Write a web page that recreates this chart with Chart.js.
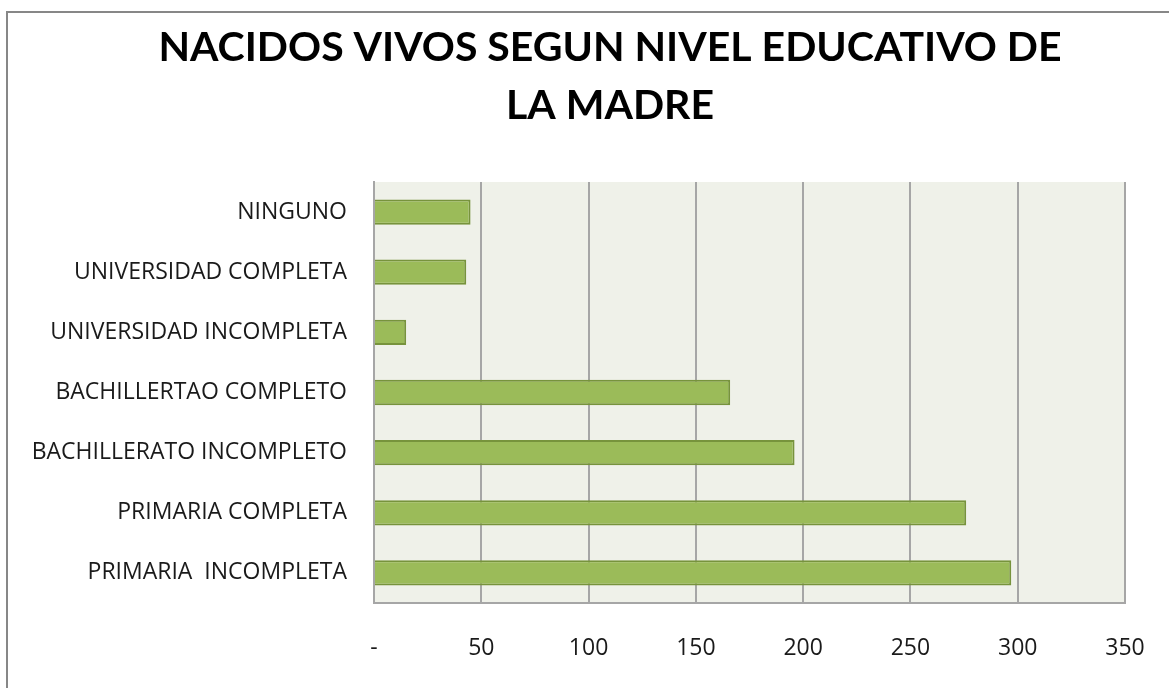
<!DOCTYPE html>
<html>
<head>
<meta charset="utf-8">
<script src="https://cdn.jsdelivr.net/npm/chart.js@4.4.1/dist/chart.umd.min.js"></script>
<style>
  html, body { margin: 0; padding: 0; background: #ffffff; }
  #wrap { position: absolute; left: 0; top: 0; width: 1169px; height: 688px; }
</style>
</head>
<body>
<div id="wrap"><canvas id="c" width="1169" height="688"></canvas></div>
<script>
const titleLines = ['NACIDOS VIVOS SEGUN NIVEL EDUCATIVO DE', 'LA MADRE'];
const categories = [
  'NINGUNO',
  'UNIVERSIDAD COMPLETA',
  'UNIVERSIDAD INCOMPLETA',
  'BACHILLERTAO COMPLETO',
  'BACHILLERATO INCOMPLETO',
  'PRIMARIA COMPLETA',
  'PRIMARIA  INCOMPLETA'
];
const births = [45, 43, 15, 166, 196, 276, 297];
const xTickMin = 0;
const xTickMax = 350;
const xTickStep = 50;
const zeroTickLabel = '-';

const TITLE_FONT = 'Lato, "Open Sans", "Liberation Sans", sans-serif';
const FONT = '"Open Sans", Lato, "Liberation Sans", sans-serif';

const decor = {
  id: 'decor',
  beforeDraw(chart) {
    const ctx = chart.ctx, a = chart.chartArea;
    ctx.save();
    ctx.fillStyle = '#eff1e9';
    ctx.fillRect(a.left, a.top, a.right - a.left, a.bottom - a.top);
    ctx.restore();
  },
  afterDraw(chart) {
    const ctx = chart.ctx;
    ctx.save();
    ctx.strokeStyle = '#878787';
    ctx.lineWidth = 2;
    ctx.beginPath();
    ctx.moveTo(7, 688);
    ctx.lineTo(7, 12);
    ctx.lineTo(1169, 12);
    ctx.stroke();
    ctx.fillStyle = '#000000';
    ctx.font = 'bold 41px ' + TITLE_FONT;
    ctx.textAlign = 'center';
    ctx.textBaseline = 'middle';
    ctx.fillText(titleLines[0], 610, 48);
    ctx.fillText(titleLines[1], 610, 106);
    ctx.restore();
  }
};

new Chart(document.getElementById('c'), {
  type: 'bar',
  data: {
    labels: categories,
    datasets: [{
      data: births,
      backgroundColor: '#9bbb59',
      borderColor: '#77933c',
      borderWidth: 2,
      borderSkipped: 'start',
      categoryPercentage: 1,
      barPercentage: 0.42
    }]
  },
  options: {
    indexAxis: 'y',
    responsive: false,
    animation: false,
    devicePixelRatio: 1,
    layout: { padding: { top: 182, right: 44, bottom: 0, left: 0 } },
    plugins: {
      legend: { display: false },
      title: { display: false },
      tooltip: { enabled: false }
    },
    scales: {
      x: {
        min: xTickMin,
        max: xTickMax,
        ticks: {
          stepSize: xTickStep,
          padding: 32,
          color: '#1a1a1a',
          font: { family: FONT, size: 23 },
          callback: (v) => v === 0 ? zeroTickLabel : String(v)
        },
        grid: { color: '#a6a6a6', lineWidth: 2, drawTicks: false },
        border: { display: true, color: '#a6a6a6', width: 2 },
        afterFit(scale) {
          scale.height = 85;
          scale.paddingRight = 0;
          scale.paddingLeft = 0;
        }
      },
      y: {
        ticks: {
          padding: 27,
          color: '#1a1a1a',
          font: { family: FONT, size: 23 }
        },
        grid: { display: false, drawTicks: false },
        border: { display: true, color: '#a6a6a6', width: 2 },
        afterFit(scale) {
          scale.width = 374;
          scale.paddingTop = 0;
          scale.paddingBottom = 0;
        }
      }
    }
  },
  plugins: [decor]
});
</script>
</body>
</html>
